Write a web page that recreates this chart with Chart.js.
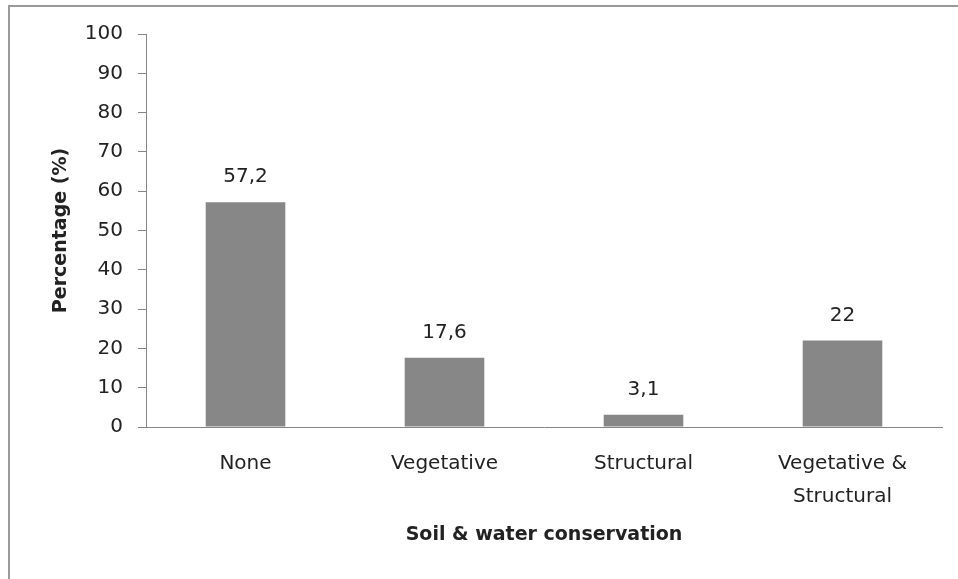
<!DOCTYPE html>
<html>
<head>
<meta charset="utf-8">
<script src="https://cdn.jsdelivr.net/npm/chart.js@4"></script>
<style>
  html, body { margin: 0; padding: 0; background: #fff; overflow: hidden; }
  #wrap { position: relative; width: 958px; height: 579px; }
  #frame { position: absolute; left: 8px; top: 5px; width: 1000px; height: 700px;
           border-left: 2px solid #9a9a9a; border-top: 2px solid #9a9a9a; }
  canvas { position: absolute; left: 0; top: 0; }
</style>
</head>
<body>
<div id="wrap">
  <div id="frame"></div>
  <canvas id="chart" width="958" height="579"></canvas>
</div>
<script>
// datos
const categories = [['None'], ['Vegetative'], ['Structural'], ['Vegetative &', 'Structural']];
const percentages = [57.2, 17.6, 3.1, 22];
const yTicks = [0, 10, 20, 30, 40, 50, 60, 70, 80, 90, 100];

const FONT = '"DejaVu Sans", Verdana, sans-serif';
const TEXT = '#222222';
const AXIS = '#868686';

// etiquetas de valor sobre cada barra (coma decimal)
const valueLabels = {
  id: 'valueLabels',
  afterDatasetsDraw(chart) {
    const ctx = chart.ctx;
    const meta = chart.getDatasetMeta(0);
    ctx.save();
    ctx.font = '20px ' + FONT;
    ctx.fillStyle = TEXT;
    ctx.textAlign = 'center';
    ctx.textBaseline = 'middle';
    meta.data.forEach((bar, i) => {
      ctx.fillText(String(percentages[i]).replace('.', ','), bar.x, bar.y - 25);
    });
    ctx.restore();
  }
};

new Chart(document.getElementById('chart'), {
  type: 'bar',
  data: {
    labels: categories,
    datasets: [{
      data: percentages,
      backgroundColor: '#878787',
      barPercentage: 0.4,
      categoryPercentage: 1
    }]
  },
  options: {
    responsive: false,
    animation: false,
    layout: { padding: { left: 0, top: 34, right: 16, bottom: 0 } },
    plugins: { legend: { display: false }, tooltip: { enabled: false } },
    scales: {
      y: {
        min: 0, max: 100,
        afterBuildTicks: s => { s.ticks = yTicks.map(v => ({ value: v })); },
        afterFit: s => { s.width = 146; },
        grid: { drawOnChartArea: false, color: AXIS, tickLength: 8 },
        border: { color: AXIS, width: 1 },
        ticks: { color: TEXT, font: { family: FONT, size: 20 }, padding: 15 },
        title: {
          display: true, text: 'Percentage (%)', color: TEXT,
          font: { family: FONT, size: 19, weight: 'bold' },
          padding: { top: 50, bottom: 0 }
        }
      },
      x: {
        afterFit: s => { s.height = 152; },
        grid: { drawOnChartArea: false, drawTicks: false, color: AXIS },
        border: { color: AXIS, width: 1 },
        ticks: { color: TEXT, font: { family: FONT, size: 20, lineHeight: '33px' }, padding: 20, maxRotation: 0 },
        title: {
          display: true, text: 'Soil & water conservation', color: TEXT,
          font: { family: FONT, size: 19, weight: 'bold' },
          padding: { top: 0, bottom: 33 }
        }
      }
    }
  },
  plugins: [valueLabels]
});
</script>
</body>
</html>
